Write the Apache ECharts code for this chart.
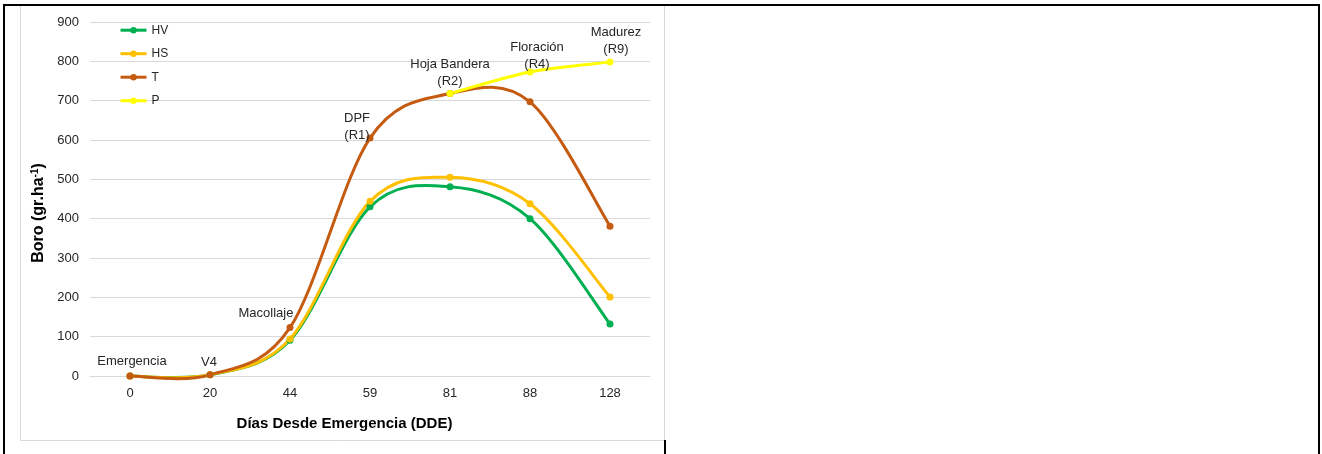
<!DOCTYPE html>
<html><head><meta charset="utf-8">
<script src="https://cdn.jsdelivr.net/npm/echarts@6/dist/echarts.min.js"></script>
<style>html,body{margin:0;padding:0;background:#fff;}#c{width:1322px;height:454px;}</style>
</head><body><div id="c"></div>
<script>
// ---- data ----
const categories = ['0', '20', '44', '59', '81', '88', '128'];
const stageLabels = ['Emergencia', 'V4', 'Macollaje', 'DPF\n(R1)', 'Hoja Bandera\n(R2)', 'Floración\n(R4)', 'Madurez\n(R9)'];
const seriesNames = ['HV', 'HS', 'T', 'P'];
const hv = [0, 3, 91, 430, 481, 400, 132];
const hs = [0, 3, 94, 444, 505, 438, 201];
const t  = [0, 3, 123, 605, 718, 697, 381];
const p  = [null, null, null, null, 718, 773, 798];
const yMin = 0, yMax = 900, yStep = 100;

// ---- styling / layout (not data) ----
const colors = ['#00B050', '#FFC000', '#C55A11', '#FFFF00'];
const labelOwner = ['T', 'T', 'T', 'T', 'P', 'P', 'P'];
const labelOffsets = [[2, 2], [-1, 5], [-24, 3], [-13, 14], [0, 5], [7, 9], [6, 4]];
const FONT = '"Liberation Sans", Arial, sans-serif';

const values = { HV: hv, HS: hs, T: t, P: p };

function curveSeries(name, vals, color) {
  return {
    type: 'custom', name: name + '_curve', coordinateSystem: 'cartesian2d',
    silent: true, animation: false,
    data: vals.map((v, i) => [i, v]).filter(d => d[1] != null),
    encode: { x: 0, y: 1 },
    renderItem: function (params, api) {
      const i = api.value(0);
      const pts = vals.map((v, k) => v == null ? null : api.coord([k, v]));
      if (i + 1 >= vals.length || pts[i + 1] == null) return null;
      const p1 = pts[i], p2 = pts[i + 1];
      const p0 = pts[i - 1] || p1, p3 = pts[i + 2] || p2;
      return {
        type: 'bezierCurve',
        shape: {
          x1: p1[0], y1: p1[1], x2: p2[0], y2: p2[1],
          cpx1: p1[0] + (p2[0] - p0[0]) / 6, cpy1: p1[1] + (p2[1] - p0[1]) / 6,
          cpx2: p2[0] - (p3[0] - p1[0]) / 6, cpy2: p2[1] - (p3[1] - p1[1]) / 6
        },
        style: { stroke: color, lineWidth: 3, fill: 'none', lineCap: 'round' }
      };
    }
  };
}

function markerSeries(name, vals, color) {
  return {
    type: 'line', name: name, color: color, animation: false,
    symbol: 'circle', symbolSize: 7, showSymbol: true,
    lineStyle: { width: 3, opacity: 0, color: color },
    itemStyle: { color: color },
    emphasis: { disabled: true },
    data: vals.map((v, i) => {
      if (labelOwner[i] !== name || v == null) return v;
      return {
        value: v,
        label: {
          show: true, position: 'top', formatter: stageLabels[i],
          offset: labelOffsets[i], color: '#262626', fontSize: 13, lineHeight: 17,
          fontFamily: FONT, align: 'center'
        }
      };
    })
  };
}

const series = [];
seriesNames.forEach((n, k) => {
  series.push(curveSeries(n, values[n], colors[k]));
  series.push(markerSeries(n, values[n], colors[k]));
});

const chart = echarts.init(document.getElementById('c'), null, { renderer: 'canvas' });
chart.setOption({
  animation: false,
  textStyle: { fontFamily: FONT },
  grid: { left: 90, right: 672, top: 22, bottom: 78 },
  legend: {
    orient: 'vertical', left: 114, top: 19.2, itemWidth: 26, itemHeight: 8, itemGap: 11.5,
    selectedMode: false,
    textStyle: { fontSize: 12, color: '#262626', fontFamily: FONT },
    data: seriesNames.map((n, k) => ({ name: n, lineStyle: { color: colors[k], width: 3, opacity: 1 }, itemStyle: { color: colors[k] } }))
  },
  xAxis: {
    type: 'category', data: categories, boundaryGap: true,
    axisLine: { show: true, lineStyle: { color: '#d9d9d9', width: 1 } },
    axisTick: { show: false },
    axisLabel: { color: '#262626', fontSize: 13, margin: 11 },
    name: 'Días Desde Emergencia (DDE)', nameLocation: 'middle', nameGap: 40,
    nameTextStyle: { fontSize: 15, fontWeight: 'bold', color: '#000', padding: [0, 51, 0, 0] }
  },
  yAxis: {
    type: 'value', min: yMin, max: yMax, interval: yStep,
    axisLine: { show: false }, axisTick: { show: false },
    splitLine: { lineStyle: { color: '#d9d9d9', width: 1 } },
    axisLabel: { color: '#262626', fontSize: 13, margin: 11 },
    name: '{b|Boro (gr.ha}{s|-1}{b|)}', nameLocation: 'middle', nameRotate: 90, nameGap: 43,
    nameTextStyle: {
      padding: [0, 28, 0, 0],
      rich: {
        b: { fontSize: 16, fontWeight: 'bold', color: '#000', fontFamily: FONT },
        s: { fontSize: 10, fontWeight: 'bold', color: '#000', fontFamily: FONT, padding: [0, 0, 7, 0] }
      }
    }
  },
  graphic: [
    { type: 'rect', silent: true, z: -10, shape: { x: 20.5, y: 5.5, width: 644, height: 435 }, style: { fill: 'none', stroke: '#d9d9d9', lineWidth: 1 } },
    { type: 'line', silent: true, shape: { x1: 3, y1: 5, x2: 1320, y2: 5 }, style: { stroke: '#000', lineWidth: 2 } },
    { type: 'line', silent: true, shape: { x1: 4, y1: 4, x2: 4, y2: 454 }, style: { stroke: '#000', lineWidth: 2 } },
    { type: 'line', silent: true, shape: { x1: 1319, y1: 4, x2: 1319, y2: 454 }, style: { stroke: '#000', lineWidth: 2 } },
    { type: 'line', silent: true, shape: { x1: 665, y1: 440, x2: 665, y2: 454 }, style: { stroke: '#000', lineWidth: 2 } }
  ],
  series: series
});
</script></body></html>
